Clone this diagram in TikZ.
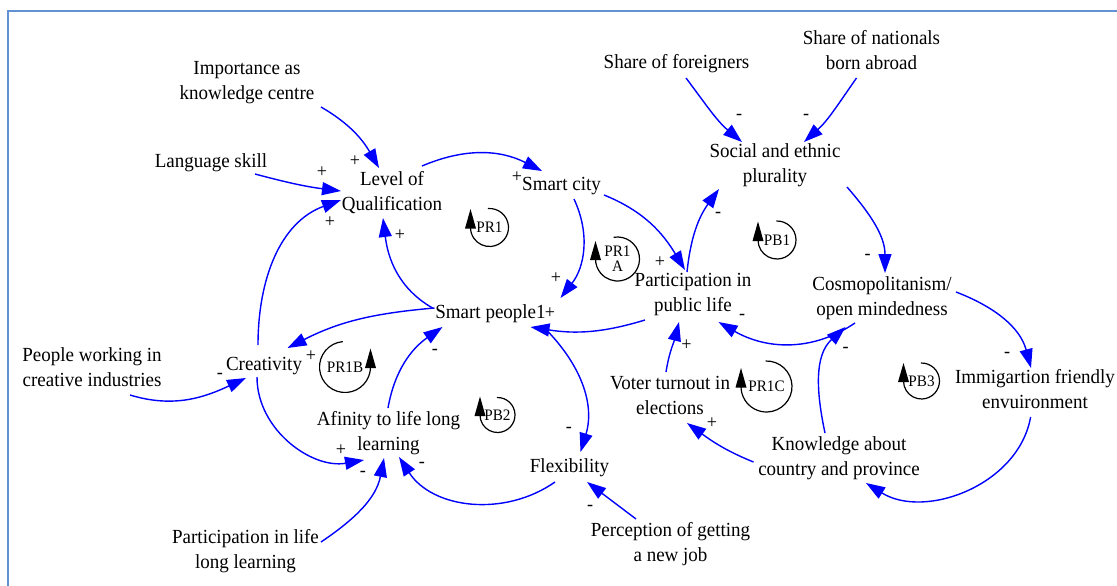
\documentclass[tikz,border=0pt]{standalone}
\usepackage{fontspec}
\setmainfont{Liberation Serif}[FakeStretch=0.95]
\usetikzlibrary{arrows.meta}
\definecolor{frameblue}{RGB}{98,145,212}
\definecolor{linkblue}{RGB}{0,0,255}

\begin{document}
\begin{tikzpicture}[x=1pt,y=1pt,
  lbl/.style={align=center, inner sep=0pt, font=\fontsize{20}{25}\selectfont,
    execute at begin node=\strut, execute at end node=\strut},
  sign/.style={inner sep=0pt, font=\fontsize{19}{19}\selectfont},
  link/.style={draw=linkblue, line width=1.4pt, -{Triangle[length=19pt,width=13pt]}},
  looplbl/.style={align=center, inner sep=0pt, font=\fontsize{16}{15}\selectfont},
  loopline/.style={draw=black, line width=1.2pt}]

\useasboundingbox (0,0) rectangle (1117,-586);
% frame
\draw[frameblue, line width=2pt] (7.5,-586) -- (7.5,-11) -- (1117,-11);

% variables
\node[lbl] (imp)  at (247,-84.5)   {Importance as\\knowledge centre};
\node[lbl] (lang) at (211,-162)    {Language skill};
\node[lbl] (lev)  at (392,-194.5)  {Level of\\Qualification};
\node[lbl] (city) at (561.5,-185)  {Smart city};
\node[lbl] (sfor) at (676.5,-64)   {Share of foreigners};
\node[lbl] (snat) at (871.5,-54)   {Share of nationals\\born abroad};
\node[lbl] (soc)  at (775,-166.5)  {Social and ethnic\\plurality};
\node[lbl] (cos)  at (882,-299.5)  {Cosmopolitanism/\\open mindedness};
\node[lbl] (par)  at (693,-296.5)  {Participation in\\public life};
\node[lbl] (sp)   at (490.5,-313)  {Smart people1};
\node[lbl] (cre)  at (264,-365)    {Creativity};
\node[lbl] (pw)   at (92,-370.5)   {People working in\\creative industries};
\node[lbl] (afi)  at (388.5,-434.5){Afinity to life long\\learning};
\node[lbl] (fle)  at (569.5,-467)  {Flexibility};
\node[lbl] (pll)  at (245.5,-552.5){Participation in life\\long learning};
\node[lbl] (per)  at (670.5,-545.5){Perception of getting\\a new job};
\node[lbl] (vot)  at (670,-399)    {Voter turnout in\\elections};
\node[lbl] (kno)  at (839,-460)    {Knowledge about\\country and province};
\node[lbl] (imm)  at (1035,-393)   {Immigartion friendly\\envuironment};

% causal links
\draw[link] ([shift={(74,-22.5)}]imp.center) to[out=-30,in=120] ([shift={(-13,26.5)}]lev.center);
\draw[link] ([shift={(44,-12)}]lang.center) to[out=-15,in=173] ([shift={(-51,3.5)}]lev.center);
\draw[link] ([shift={(-6,20)}]cre.center) to[out=90,in=-160] ([shift={(-51,-5.5)}]lev.center);
\draw[link] ([shift={(-58,5)}]sp.center) to[out=150,in=-83] ([shift={(-9,-23.5)}]lev.center);
\draw[link] ([shift={(30,28.5)}]lev.center) to[out=23,in=153] ([shift={(-19.5,14)}]city.center);
\draw[link] ([shift={(12.5,-14)}]city.center) to[out=-65,in=52] ([shift={(70,15)}]sp.center);
\draw[link] ([shift={(42.5,-10)}]city.center) to[out=-22,in=121] ([shift={(-8,26.5)}]par.center);
\draw[link] ([shift={(-6,24.5)}]par.center) to[out=84,in=-126] ([shift={(-56,-22.5)}]soc.center);
\draw[link] ([shift={(9.5,-14)}]sfor.center) to[out=-53,in=140] ([shift={(-33,24.5)}]soc.center);
\draw[link] ([shift={(-15,-24)}]snat.center) to[out=-125,in=42] ([shift={(29,24.5)}]soc.center);
\draw[link] ([shift={(72,-20.5)}]soc.center) to[out=-49,in=90] ([shift={(3,26.5)}]cos.center);
\draw[link] ([shift={(74,7.5)}]cos.center) to[out=-21,in=105] ([shift={(-4,25)}]imm.center);
\draw[link] ([shift={(-27,-23.5)}]cos.center) to[out=-146,in=-30] ([shift={(25.5,-25.5)}]par.center);
\draw[link] ([shift={(-14,27)}]kno.center) to[out=102,in=-138] ([shift={(-36.5,-27.5)}]cos.center);
\draw[link] ([shift={(-48,-23.5)}]par.center) to[out=-163,in=-9] ([shift={(40,-14)}]sp.center);
\draw[link] ([shift={(54,-15)}]sp.center) to[out=-45,in=73] ([shift={(11,15)}]fle.center);
\draw[link] ([shift={(-4,27)}]vot.center) to[out=81,in=-104] ([shift={(-14,-25.5)}]par.center);
\draw[link] ([shift={(-85.5,-2)}]kno.center) to[out=158,in=-36] ([shift={(17,-24)}]vot.center);
\draw[link] ([shift={(-4.4,-24)}]imm.center) to[out=-100,in=-32] ([shift={(27,-23)}]kno.center);
\draw[link] ([shift={(-34.5,26.5)}]per.center) -- ([shift={(17.5,-15)}]fle.center);
\draw[link] ([shift={(-56,5)}]sp.center) to[out=-175,in=27] ([shift={(23.5,17)}]cre.center);
\draw[link] ([shift={(38,-24.5)}]pw.center) to[out=-17,in=-155] ([shift={(-18,-13)}]cre.center);
\draw[link] ([shift={(-7,-12)}]cre.center) to[out=-90,in=-170] ([shift={(-24.5,-25.5)}]afi.center);
\draw[link] ([shift={(-0.5,26.5)}]afi.center) to[out=80,in=-145] ([shift={(-48,-14)}]sp.center);
\draw[link] ([shift={(75.5,10.5)}]pll.center) to[out=34,in=-101] ([shift={(-4.5,-23.5)}]afi.center);
\draw[link] ([shift={(-14.5,-15)}]fle.center) to[out=-145,in=-57] ([shift={(10.5,-22.5)}]afi.center);

% link polarities
\node[sign] at (355,-161) {+};
\node[sign] at (322,-172) {+};
\node[sign] at (330,-222) {+};
\node[sign] at (400,-235) {+};
\node[sign] at (517,-177) {+};
\node[sign] at (556,-278) {+};
\node[sign] at (550,-313) {+};
\node[sign] at (660,-262) {+};
\node[sign] at (718,-215) {-};
\node[sign] at (739,-117) {-};
\node[sign] at (806,-117) {-};
\node[sign] at (867.5,-257) {-};
\node[sign] at (1007,-355) {-};
\node[sign] at (742,-317) {-};
\node[sign] at (845.5,-350) {-};
\node[sign] at (686.5,-345) {+};
\node[sign] at (712,-423) {+};
\node[sign] at (311,-356) {+};
\node[sign] at (220,-376) {-};
\node[sign] at (341,-450) {+};
\node[sign] at (435,-352) {-};
\node[sign] at (363,-474) {-};
\node[sign] at (422,-465) {-};
\node[sign] at (569,-430) {-};
\node[sign] at (590,-508) {-};

% loop markers
\node[looplbl] (pr1) at (489.5,-227.5) {PR1};
\draw[loopline] ([shift={(95:19)}]pr1.center) arc[start angle=95, end angle=-180, radius=19];
\fill ([shift={(-24.5,-1)}]pr1.center) -- ([shift={(-13.5,-1)}]pr1.center) -- ([shift={(-19,18.5)}]pr1.center) -- cycle;

\node[looplbl] (pr1a) at (617.5,-259) {PR1\\A};
\draw[loopline] ([shift={(100:22)}]pr1a.center) arc[start angle=100, end angle=-180, radius=22];
\fill ([shift={(-27.5,-1)}]pr1a.center) -- ([shift={(-16.5,-1)}]pr1a.center) -- ([shift={(-22,18)}]pr1a.center) -- cycle;

\node[looplbl] (pb1) at (777,-240) {PB1};
\draw[loopline] ([shift={(92:19)}]pb1.center) arc[start angle=92, end angle=-180, radius=19];
\fill ([shift={(-24.5,-1)}]pb1.center) -- ([shift={(-13.5,-1)}]pb1.center) -- ([shift={(-19,18.5)}]pb1.center) -- cycle;

\node[looplbl] (pr1c) at (766.5,-386.5) {PR1C};
\draw[loopline] ([shift={(92:25.5)}]pr1c.center) arc[start angle=92, end angle=-180, radius=25.5];
\fill ([shift={(-31,-1)}]pr1c.center) -- ([shift={(-20,-1)}]pr1c.center) -- ([shift={(-25.5,18.5)}]pr1c.center) -- cycle;

\node[looplbl] (pr1b) at (345,-367) {PR1B};
\draw[loopline] ([shift={(95:25.5)}]pr1b.center) arc[start angle=95, end angle=360, radius=25.5];
\fill ([shift={(20,-1)}]pr1b.center) -- ([shift={(31,-1)}]pr1b.center) -- ([shift={(25.5,18.5)}]pr1b.center) -- cycle;

\node[looplbl] (pb2) at (497.5,-415) {PB2};
\draw[loopline] ([shift={(92:17.5)}]pb2.center) arc[start angle=92, end angle=-180, radius=17.5];
\fill ([shift={(-23,-1)}]pb2.center) -- ([shift={(-12,-1)}]pb2.center) -- ([shift={(-17.5,18.5)}]pb2.center) -- cycle;

\node[looplbl] (pb3) at (921.5,-381) {PB3};
\draw[loopline] ([shift={(92:18)}]pb3.center) arc[start angle=92, end angle=-180, radius=18];
\fill ([shift={(-23.5,-1)}]pb3.center) -- ([shift={(-12.5,-1)}]pb3.center) -- ([shift={(-18,18)}]pb3.center) -- cycle;
\end{tikzpicture}
\end{document}
